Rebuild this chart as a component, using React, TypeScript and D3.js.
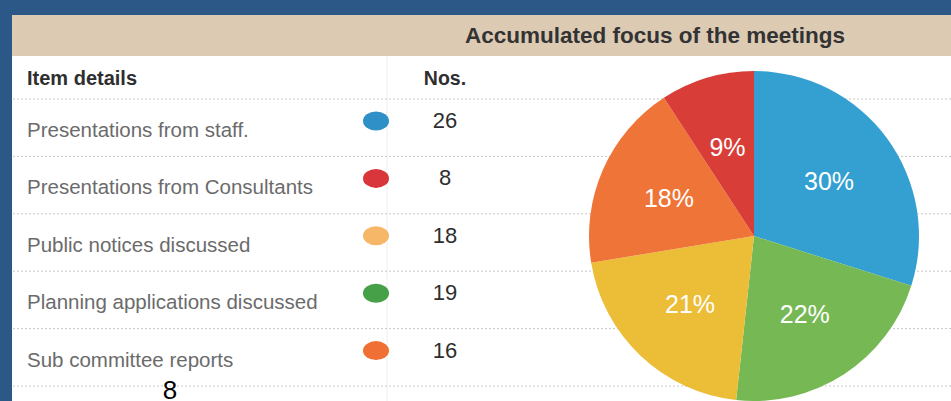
import React from "react";
import * as d3 from "d3";

const title = "Accumulated focus of the meetings";
const headerItem = "Item details";
const headerNos = "Nos.";
const items = [
  "Presentations from staff.",
  "Presentations from Consultants",
  "Public notices discussed",
  "Planning applications discussed",
  "Sub committee reports",
];
const counts = [26, 8, 18, 19, 16];
const dotColors = ["#2f8fc7", "#d8363a", "#f6b768", "#45a047", "#ef6f35"];
const pieColors = ["#33a0d1", "#d83e37", "#ecbd37", "#75b854", "#ef7437"];
const pieOrder = [0, 3, 2, 4, 1];
const pageNumber = "8";

const W = 951;
const H = 401;

export default function App() {
  const sep = d3.scaleLinear().domain([0, 5]).range([99, 386]);
  const total = d3.sum(counts);
  const pieData = pieOrder.map((i) => ({ i, v: counts[i] }));
  const arcs = d3
    .pie<{ i: number; v: number }>()
    .sort(null)
    .value((d) => d.v)(pieData);
  const R = 165;
  const cx = 754;
  const cy = 236;
  const arcGen = d3.arc<any>().innerRadius(0).outerRadius(R);
  const labelArc = d3.arc<any>().innerRadius(93).outerRadius(93);
  const font = "'Liberation Sans', Arial, Helvetica, sans-serif";

  return (
    <svg
      width={W}
      height={H}
      style={{ position: "absolute", left: 0, top: 0 }}
      fontFamily={font}
    >
      <rect x={0} y={0} width={W} height={H} fill="#2b5886" />
      <rect x={12} y={56} width={W - 12} height={H - 56} fill="#ffffff" />
      <rect x={12} y={15} width={W - 12} height={41} fill="#dccab3" />
      <text x={465} y={43} fontSize={22.5} fontWeight="bold" fill="#333333">
        {title}
      </text>
      <line x1={387} x2={387} y1={56} y2={H} stroke="#eeeeee" strokeWidth={1} />
      {d3.range(6).map((k) => (
        <line
          key={k}
          x1={13}
          x2={W}
          y1={sep(k)}
          y2={sep(k)}
          stroke="#c8c8c8"
          strokeWidth={1}
          strokeDasharray="2,2"
        />
      ))}
      <text x={27} y={85} fontSize={20} fontWeight="bold" fill="#2e2e2e">
        {headerItem}
      </text>
      <text x={445} y={85} fontSize={19.5} fontWeight="bold" fill="#2e2e2e" textAnchor="middle">
        {headerNos}
      </text>
      {items.map((t, k) => (
        <g key={t}>
          <text x={27} y={sep(k) + 38} fontSize={20.5} fill="#6b6b6b">
            {t}
          </text>
          <ellipse cx={376} cy={sep(k) + 22} rx={13} ry={9.5} fill={dotColors[k]} />
          <text x={445} y={sep(k) + 29} fontSize={22} fill="#2e2e2e" textAnchor="middle">
            {counts[k]}
          </text>
        </g>
      ))}
      <g transform={`translate(${cx},${cy})`}>
        {arcs.map((a) => (
          <path key={a.data.i} d={arcGen(a) as string} fill={pieColors[a.data.i]} />
        ))}
        {arcs.map((a) => {
          const [lx, ly] = labelArc.centroid(a);
          return (
            <text
              key={"l" + a.data.i}
              x={lx}
              y={ly}
              dy="0.36em"
              textAnchor="middle"
              fontSize={25}
              fill="#ffffff"
            >
              {Math.round((a.data.v / total) * 100) + "%"}
            </text>
          );
        })}
      </g>
      <text x={170} y={399} fontSize={26} fill="#000000" textAnchor="middle">
        {pageNumber}
      </text>
    </svg>
  );
}
